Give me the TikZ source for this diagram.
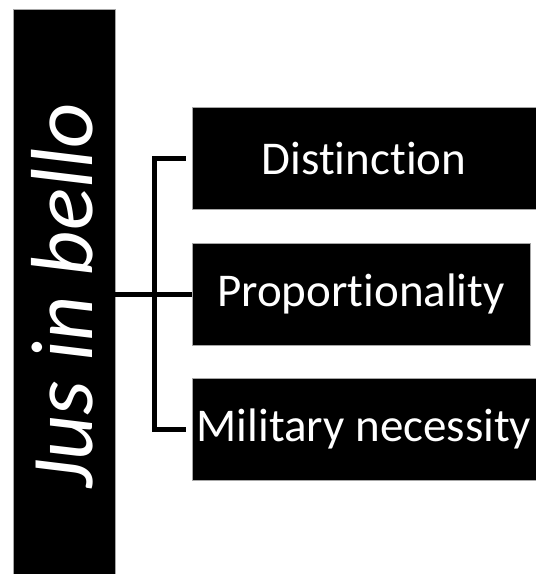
\documentclass[tikz,border=0pt]{standalone}
\usepackage{fontspec}
\setmainfont{Carlito}[RawFeature={-liga;-clig;-calt;-dlig}]
\begin{document}
\begin{tikzpicture}[x=1pt,y=-1pt,
  blackbox/.style={fill=black,draw=gray!70,line width=0.6pt,text=white,inner sep=0pt},
  bracket/.style={line width=5pt,line cap=butt,line join=miter}]
\useasboundingbox (0,0) rectangle (536,574);
\node[blackbox,minimum width=102pt,minimum height=566pt] (bar) at (64,292) {};
\node[text=white,rotate=90,font=\fontsize{88}{94}\selectfont\itshape] (title) at (62,296) {Jus in bello};
\node[blackbox,minimum width=344pt,minimum height=102pt,font=\fontsize{47}{52}\selectfont] (d) at (364,158) {Distinction};
\node[blackbox,minimum width=338pt,minimum height=102pt,font=\fontsize{47}{52}\selectfont] (p) at (361,294) {Proportionality};
\node[blackbox,minimum width=344pt,minimum height=102pt,font=\fontsize{47}{52}\selectfont] (m) at (364,429) {Military necessity};
\coordinate (spine) at (154,294);
\draw[bracket] (bar.east |- p.west) -- (p.west);
\draw[bracket] (d.west) ++(-6,0) coordinate (dt) (dt) -- (spine |- dt) -- (spine |- m.west) -- ([xshift=-6pt]m.west);
\end{tikzpicture}
\end{document}
